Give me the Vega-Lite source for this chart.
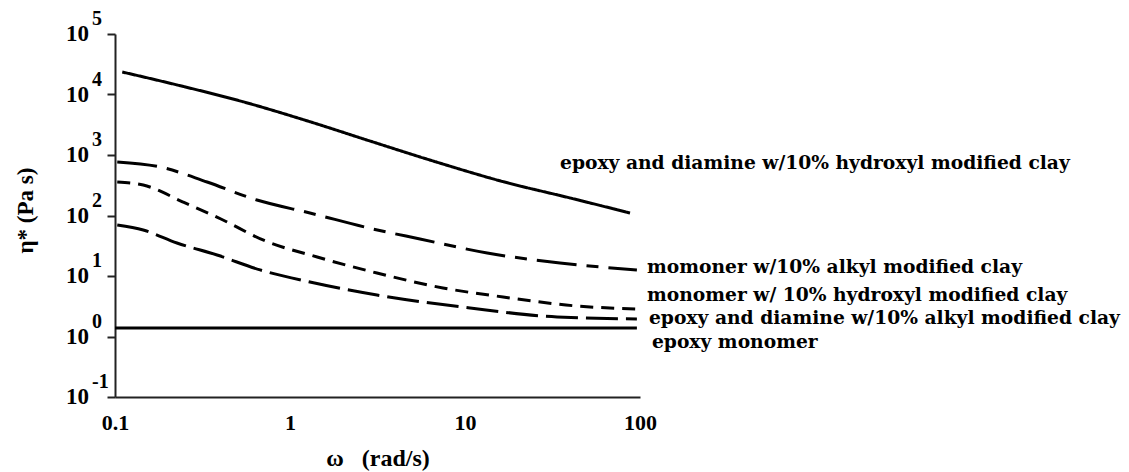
{
  "$schema": "https://vega.github.io/schema/vega-lite/v6.json",
  "width": 525,
  "height": 363,
  "autosize": {"type": "none"},
  "padding": {"left": 115, "top": 34, "right": 489, "bottom": 75},
  "background": "white",
  "config": {
    "view": {"stroke": null},
    "font": "Liberation Serif",
    "axis": {"labelFont": "Liberation Serif", "titleFont": "Liberation Serif", "labelFontWeight": "bold", "titleFontWeight": "bold", "labelColor": "black", "titleColor": "black", "grid": false, "domainColor": "#222", "domainWidth": 2}
  },
  "datasets": {
    "curves": [
      {"series": "epoxy and diamine w/10% hydroxyl modified clay", "w": 0.11, "eta": 23550},
      {"series": "epoxy and diamine w/10% hydroxyl modified clay", "w": 0.226, "eta": 14400},
      {"series": "epoxy and diamine w/10% hydroxyl modified clay", "w": 0.538, "eta": 7600},
      {"series": "epoxy and diamine w/10% hydroxyl modified clay", "w": 1.3, "eta": 3550},
      {"series": "epoxy and diamine w/10% hydroxyl modified clay", "w": 2.87, "eta": 1700},
      {"series": "epoxy and diamine w/10% hydroxyl modified clay", "w": 6.92, "eta": 760},
      {"series": "epoxy and diamine w/10% hydroxyl modified clay", "w": 16.5, "eta": 363},
      {"series": "epoxy and diamine w/10% hydroxyl modified clay", "w": 39.8, "eta": 195},
      {"series": "epoxy and diamine w/10% hydroxyl modified clay", "w": 87.7, "eta": 110},
      {"series": "momoner w/10% alkyl modified clay", "w": 0.103, "eta": 766},
      {"series": "momoner w/10% alkyl modified clay", "w": 0.181, "eta": 634},
      {"series": "momoner w/10% alkyl modified clay", "w": 0.336, "eta": 358},
      {"series": "momoner w/10% alkyl modified clay", "w": 0.647, "eta": 180},
      {"series": "momoner w/10% alkyl modified clay", "w": 1.3, "eta": 110},
      {"series": "momoner w/10% alkyl modified clay", "w": 2.98, "eta": 59.8},
      {"series": "momoner w/10% alkyl modified clay", "w": 5.53, "eta": 40.9},
      {"series": "momoner w/10% alkyl modified clay", "w": 13.4, "eta": 24.0},
      {"series": "momoner w/10% alkyl modified clay", "w": 34.9, "eta": 16.4},
      {"series": "momoner w/10% alkyl modified clay", "w": 96, "eta": 12.6},
      {"series": "monomer w/ 10% hydroxyl modified clay", "w": 0.103, "eta": 358},
      {"series": "monomer w/ 10% hydroxyl modified clay", "w": 0.145, "eta": 319},
      {"series": "monomer w/ 10% hydroxyl modified clay", "w": 0.245, "eta": 167},
      {"series": "monomer w/ 10% hydroxyl modified clay", "w": 0.414, "eta": 84.3},
      {"series": "monomer w/ 10% hydroxyl modified clay", "w": 0.701, "eta": 39.4},
      {"series": "monomer w/ 10% hydroxyl modified clay", "w": 1.43, "eta": 20.6},
      {"series": "monomer w/ 10% hydroxyl modified clay", "w": 3.14, "eta": 11.2},
      {"series": "monomer w/ 10% hydroxyl modified clay", "w": 7.48, "eta": 6.34},
      {"series": "monomer w/ 10% hydroxyl modified clay", "w": 16.5, "eta": 4.5},
      {"series": "monomer w/ 10% hydroxyl modified clay", "w": 43.6, "eta": 3.19},
      {"series": "monomer w/ 10% hydroxyl modified clay", "w": 96, "eta": 2.85},
      {"series": "epoxy and diamine w/10% alkyl modified clay", "w": 0.103, "eta": 69.7},
      {"series": "epoxy and diamine w/10% alkyl modified clay", "w": 0.145, "eta": 57.5},
      {"series": "epoxy and diamine w/10% alkyl modified clay", "w": 0.226, "eta": 35.1},
      {"series": "epoxy and diamine w/10% alkyl modified clay", "w": 0.383, "eta": 22.2},
      {"series": "epoxy and diamine w/10% alkyl modified clay", "w": 0.675, "eta": 12.6},
      {"series": "epoxy and diamine w/10% alkyl modified clay", "w": 1.3, "eta": 7.96},
      {"series": "epoxy and diamine w/10% alkyl modified clay", "w": 3.14, "eta": 4.85},
      {"series": "epoxy and diamine w/10% alkyl modified clay", "w": 10.7, "eta": 2.96},
      {"series": "epoxy and diamine w/10% alkyl modified clay", "w": 33.6, "eta": 2.1},
      {"series": "epoxy and diamine w/10% alkyl modified clay", "w": 96, "eta": 1.95},
      {"series": "epoxy monomer", "w": 0.1, "eta": 1.38},
      {"series": "epoxy monomer", "w": 96, "eta": 1.38}
    ],
    "labels": [
      {"series": "epoxy and diamine w/10% hydroxyl modified clay", "w": 34.9, "eta": 738},
      {"series": "momoner w/10% alkyl modified clay", "w": 109.7, "eta": 14.1},
      {"series": "monomer w/ 10% hydroxyl modified clay", "w": 109.7, "eta": 4.85},
      {"series": "epoxy and diamine w/10% alkyl modified clay", "w": 112.5, "eta": 2.02},
      {"series": "epoxy monomer", "w": 117, "eta": 0.81}
    ],
    "decades": [
      {"v": 100000, "e": "5"},
      {"v": 10000, "e": "4"},
      {"v": 1000, "e": "3"},
      {"v": 100, "e": "2"},
      {"v": 10, "e": "1"},
      {"v": 1, "e": "0"},
      {"v": 0.1, "e": "-1"}
    ]
  },
  "layer": [
    {
      "data": {"name": "curves"},
      "mark": {"type": "line", "color": "black", "strokeWidth": 3, "clip": false, "interpolate": "monotone"},
      "encoding": {
        "x": {"field": "w", "type": "quantitative", "scale": {"type": "log", "domain": [0.1, 100], "nice": false},
          "axis": {"values": [0.1, 1, 10, 100], "format": "~g", "ticks": false, "labelFlush": false, "labelFontSize": 22, "labelPadding": 15, "title": "ω\u2002 (rad/s)", "titleFontSize": 24, "titleY": 61, "titleBaseline": "middle"}},
        "y": {"field": "eta", "type": "quantitative", "scale": {"type": "log", "domain": [0.1, 100000], "nice": false},
          "axis": {"values": [0.1, 1, 10, 100, 1000, 10000, 100000], "labels": false, "tickSize": 8, "tickWidth": 2, "tickColor": "#222", "title": "η* (Pa s)", "titleFontSize": 23, "titleAngle": -90, "titleX": -90, "titleY": 176, "titleBaseline": "middle", "titleAlign": "center"}},
        "detail": {"field": "series"},
        "strokeDash": {"field": "series", "type": "nominal", "legend": null,
          "scale": {"domain": ["epoxy and diamine w/10% hydroxyl modified clay", "momoner w/10% alkyl modified clay", "monomer w/ 10% hydroxyl modified clay", "epoxy and diamine w/10% alkyl modified clay", "epoxy monomer"],
            "range": [[1, 0], [40, 10, 12, 10], [13, 8], [32, 8], [1, 0]]}}
      }
    },
    {
      "data": {"name": "labels"},
      "mark": {"type": "text", "align": "left", "baseline": "middle", "fontSize": 18.7, "fontWeight": "bold", "font": "DejaVu Serif", "color": "black", "clip": false},
      "encoding": {
        "x": {"field": "w", "type": "quantitative"},
        "y": {"field": "eta", "type": "quantitative"},
        "text": {"field": "series"}
      }
    },
    {
      "data": {"name": "decades"},
      "mark": {"type": "text", "align": "right", "baseline": "middle", "dx": -26, "fontSize": 23, "fontWeight": "bold", "font": "Liberation Serif", "color": "black"},
      "encoding": {
        "x": {"datum": 0.1},
        "y": {"field": "v", "type": "quantitative"},
        "text": {"value": "10"}
      }
    },
    {
      "data": {"name": "decades"},
      "mark": {"type": "text", "align": "left", "baseline": "middle", "dx": -23, "dy": -15, "fontSize": 20, "fontWeight": "bold", "font": "Liberation Serif", "color": "black"},
      "encoding": {
        "x": {"datum": 0.1},
        "y": {"field": "v", "type": "quantitative"},
        "text": {"field": "e"}
      }
    }
  ]
}
